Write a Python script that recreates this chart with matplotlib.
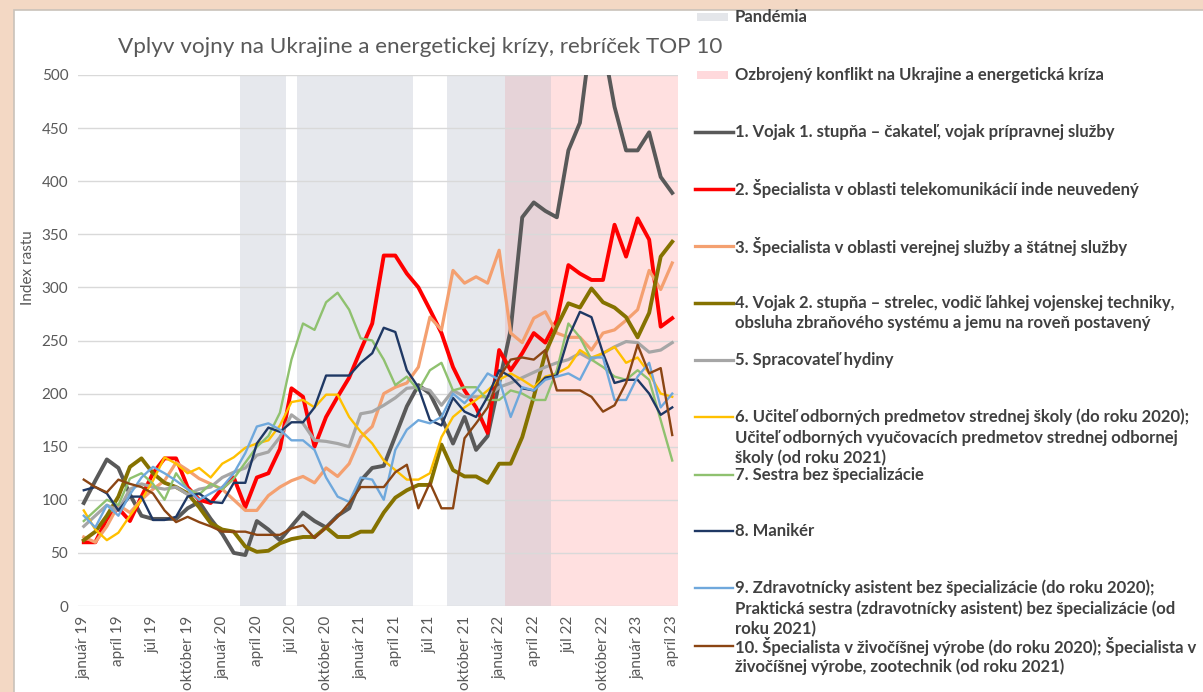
import matplotlib.pyplot as plt
from matplotlib.lines import Line2D
from matplotlib.patches import Rectangle

# data: monthly index values, január 2019 .. apríl 2023 (52 months)
vojak1 = [97, 118, 138, 130, 105, 85, 82, 82, 82, 92, 98, 82, 68, 50, 48, 80, 72, 62, 75, 88,
          80, 74, 85, 92, 118, 130, 132, 160, 188, 208, 200, 178, 153, 178, 147, 160, 210, 260,
          366, 380, 372, 366, 429, 455, 540, 530, 470, 429, 429, 446, 404, 389]
telekom = [60, 60, 82, 92, 80, 103, 125, 139, 139, 112, 100, 97, 111, 121, 93, 121, 125, 148, 205, 197,
           150, 178, 197, 215, 241, 266, 330, 330, 313, 300, 279, 257, 225, 203, 187, 163, 241, 222,
           238, 257, 248, 269, 321, 313, 307, 307, 359, 329, 365, 345, 263, 271]
verejna = [65, 60, 75, 95, 88, 100, 110, 118, 135, 128, 120, 115, 110, 100, 90, 90, 104, 112, 118, 122,
           116, 130, 122, 134, 159, 169, 200, 206, 210, 225, 272, 260, 316, 304, 310, 304, 335, 257,
           248, 271, 277, 257, 253, 253, 241, 257, 260, 269, 279, 316, 298, 323]
vojak2 = [62, 70, 85, 103, 131, 139, 125, 116, 112, 106, 93, 78, 72, 70, 56, 51, 52, 59, 63, 65,
          65, 74, 65, 65, 70, 70, 88, 102, 109, 114, 114, 152, 128, 122, 122, 116, 134, 134,
          159, 197, 238, 263, 285, 281, 299, 286, 281, 272, 253, 276, 329, 343]
hydina = [75, 85, 95, 90, 110, 115, 112, 110, 112, 105, 110, 112, 121, 126, 130, 142, 145, 159, 180, 172,
          156, 155, 153, 150, 181, 183, 189, 196, 205, 206, 203, 189, 203, 197, 197, 197, 206, 210,
          215, 220, 225, 229, 232, 238, 232, 238, 244, 249, 248, 239, 241, 248]
ucitel = [90, 72, 62, 69, 85, 100, 118, 140, 134, 125, 130, 121, 134, 140, 149, 153, 156, 170, 192, 194,
          187, 199, 199, 178, 164, 153, 137, 128, 119, 119, 125, 159, 178, 187, 194, 203, 213, 219,
          213, 206, 216, 219, 225, 241, 234, 238, 244, 229, 234, 219, 200, 197]
sestra = [80, 90, 100, 95, 120, 125, 115, 100, 125, 110, 105, 115, 110, 120, 135, 150, 160, 182, 232, 266,
          260, 286, 295, 279, 252, 250, 232, 208, 216, 203, 222, 229, 203, 206, 206, 194, 194, 203,
          200, 194, 194, 222, 266, 253, 232, 225, 216, 213, 222, 213, 175, 137]
maniker = [109, 112, 106, 90, 103, 103, 81, 81, 84, 103, 106, 98, 97, 116, 116, 153, 168, 164, 173, 173,
           187, 217, 217, 217, 229, 238, 262, 258, 222, 206, 175, 170, 196, 183, 178, 197, 222, 216,
           205, 203, 215, 217, 253, 277, 272, 238, 210, 213, 213, 200, 180, 187]
asistent = [85, 74, 95, 85, 105, 121, 131, 125, 118, 110, 100, 106, 112, 125, 144, 169, 172, 166, 156, 156,
            147, 121, 103, 98, 121, 119, 100, 147, 166, 175, 172, 178, 200, 191, 203, 219, 213, 178,
            206, 203, 213, 216, 219, 213, 234, 234, 194, 194, 216, 229, 187, 200]
zootech = [119, 112, 107, 119, 115, 112, 106, 90, 79, 84, 79, 75, 70, 70, 70, 67, 67, 67, 73, 76,
           64, 74, 84, 97, 112, 112, 112, 126, 133, 92, 116, 92, 92, 158, 172, 187, 215, 232,
           234, 232, 241, 203, 203, 203, 197, 183, 189, 210, 246, 219, 224, 161]

series_labels = [
    "1. Vojak 1. stupňa – čakateľ, vojak prípravnej služby",
    "2. Špecialista v oblasti telekomunikácií inde neuvedený",
    "3. Špecialista v oblasti verejnej služby a štátnej služby",
    "4. Vojak 2. stupňa – strelec, vodič ľahkej vojenskej techniky,\nobsluha zbraňového systému a jemu na roveň postavený",
    "5. Spracovateľ hydiny",
    "6. Učiteľ odborných predmetov strednej školy (do roku 2020);\nUčiteľ odborných vyučovacích predmetov strednej odbornej\nškoly (od roku 2021)",
    "7. Sestra bez špecializácie",
    "8. Manikér",
    "9. Zdravotnícky asistent bez špecializácie (do roku 2020);\nPraktická sestra (zdravotnícky asistent) bez špecializácie (od\nroku 2021)",
    "10. Špecialista v živočíšnej výrobe (do roku 2020); Špecialista v\nživočíšnej výrobe, zootechnik (od roku 2021)",
]
series_values = [vojak1, telekom, verejna, vojak2, hydina, ucitel, sestra, maniker, asistent, zootech]
series_colors = ['#595959', '#FF0000', '#F4A070', '#857200', '#A6A6A6',
                 '#FFC000', '#8FC16F', '#1F3864', '#6FA8DC', '#8B4513']
series_widths = [2.8, 2.8, 2.3, 2.8, 2.3, 1.7, 1.7, 1.7, 1.7, 1.7]

tick_labels = ['január 19', 'apríl 19', 'júl 19', 'október 19', 'január 20', 'apríl 20',
               'júl 20', 'október 20', 'január 21', 'apríl 21', 'júl 21', 'október 21',
               'január 22', 'apríl 22', 'júl 22', 'október 22', 'január 23', 'apríl 23']

# shaded periods, as (first month, last month) indices
pandemic_periods = [(14, 17), (19, 28), (32, 40)]
conflict_periods = [(37, 51)]

FONT = 'Lato'
TXT = '#595959'

fig = plt.figure(figsize=(12.03, 6.92), dpi=100)
fig.patch.set_facecolor('#F3D8C4')
fig.patches.append(Rectangle((14 / 1203, -0.05), 1.1, 1 - 10 / 692 + 0.05, transform=fig.transFigure,
                             facecolor='white', edgecolor='#C9C2BA', linewidth=1.2, zorder=-5))

ax = fig.add_axes([78 / 1203, 1 - 606 / 692, 600 / 1203, 531 / 692])
ax.set_facecolor('none')
ax.set_zorder(1)

for a, b in conflict_periods:
    ax.axvspan(a - 0.5, b + 0.5, color='#FF0000', alpha=0.12, lw=0, zorder=0.2)
for a, b in pandemic_periods:
    ax.axvspan(a - 0.5, b + 0.5, color='#AEB6C6', alpha=0.3, lw=0, zorder=0.3)

months = list(range(len(vojak1)))
for vals, col, lw in zip(series_values, series_colors, series_widths):
    ax.plot(months, vals, color=col, linewidth=lw, solid_joinstyle='round', zorder=2)

ax.set_xlim(-0.5, len(months) - 0.5)
ax.set_ylim(0, 500)
ax.set_yticks(range(0, 501, 50))
ax.set_xticks(range(0, len(months), 3))
ax.set_xticklabels(tick_labels, rotation=90, fontsize=11, color=TXT, family=FONT)
for lab in ax.get_yticklabels():
    lab.set_fontsize(11)
    lab.set_color(TXT)
    lab.set_family(FONT)
ax.tick_params(length=0, pad=7)
ax.set_axisbelow(True)
ax.grid(axis='y', color='#D9D9D9', linewidth=1)
for sp in ax.spines.values():
    sp.set_visible(False)

fig.text(420 / 1203, 1 - 47 / 692, 'Vplyv vojny na Ukrajine a energetickej krízy, rebríček TOP 10',
         ha='center', va='center', fontsize=16.2, color=TXT, family=FONT)
fig.text(28 / 1203, 1 - 268 / 692, 'Index rastu', rotation=90, ha='center', va='center',
         fontsize=11, color=TXT, family=FONT)

# legend, laid out like the original (fixed row pitch, text anchored on first line)
def px(x, y):
    return x / 1203, 1 - y / 692

LEG_TXT = '#404040'
LEG_SIZE = 12
patch_rows = [('Pandémia', '#E4E6EA', 17), ('Ozbrojený konflikt na Ukrajine a energetická kríza', '#FFD9DC', 75)]
for text, col, y in patch_rows:
    x0, y0 = px(697, y + 4)
    fig.patches.append(Rectangle((x0, y0), 31 / 1203, 8 / 692, transform=fig.transFigure,
                                 facecolor=col, edgecolor='none'))
    fig.text(*px(735, y), text, ha='left', va='center', fontsize=LEG_SIZE, fontweight='bold',
             color=LEG_TXT, family=FONT)

row_y = [132, 189, 246, 303, 360, 417, 475, 531, 588, 646]
for label, col, lw, y in zip(series_labels, series_colors, series_widths, row_y):
    xa, ya = px(695, y)
    xb, _ = px(733, y)
    fig.lines.append(Line2D([xa, xb], [ya, ya], transform=fig.transFigure, color=col,
                            linewidth=min(lw, 2.5)))
    for i, line in enumerate(label.split('\n')):
        fig.text(*px(735, y + i * 20.5), line, ha='left', va='center', fontsize=LEG_SIZE,
                 fontweight='bold', color=LEG_TXT, family=FONT)

fig.savefig('out.png', dpi=100, facecolor=fig.get_facecolor())
